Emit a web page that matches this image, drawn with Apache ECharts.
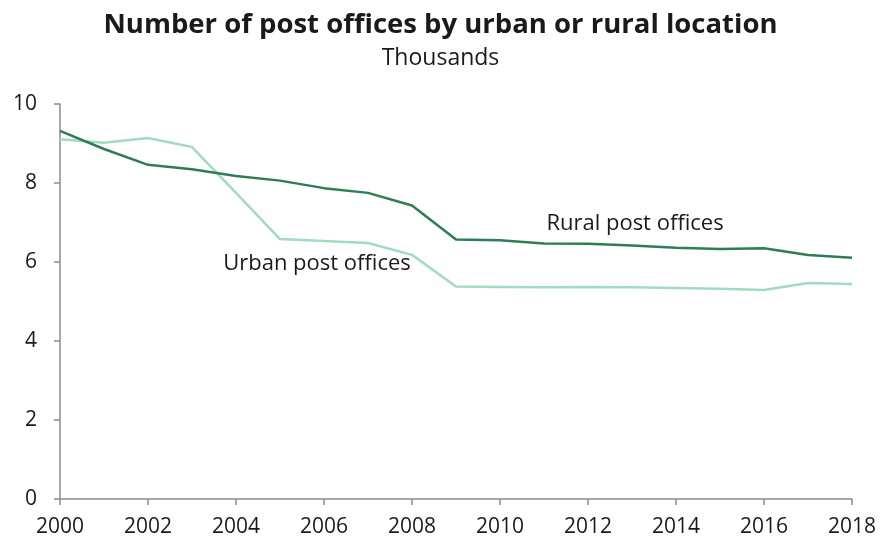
<!DOCTYPE html>
<html>
<head>
<meta charset="utf-8">
<script src="https://cdn.jsdelivr.net/npm/echarts@6/dist/echarts.min.js"></script>
<style>
  html, body { margin: 0; padding: 0; background: #ffffff; }
  #chart { width: 881px; height: 539px; }
</style>
</head>
<body>
<div id="chart"></div>
<script>
// Post offices (thousands) by location, 2000-2018
const years = [2000, 2001, 2002, 2003, 2004, 2005, 2006, 2007, 2008, 2009,
               2010, 2011, 2012, 2013, 2014, 2015, 2016, 2017, 2018];
const rural = [9.32, 8.86, 8.46, 8.35, 8.18, 8.06, 7.87, 7.75, 7.43, 6.57,
               6.55, 6.47, 6.46, 6.42, 6.36, 6.33, 6.35, 6.18, 6.11];
const urban = [9.11, 9.02, 9.14, 8.91, 7.75, 6.58, 6.53, 6.48, 6.18, 5.38,
               5.37, 5.36, 5.37, 5.36, 5.34, 5.32, 5.29, 5.47, 5.44];
const yTicks = [0, 2, 4, 6, 8, 10];
const xTicks = [2000, 2002, 2004, 2006, 2008, 2010, 2012, 2014, 2016, 2018];

const FONT = '"Open Sans", "Noto Sans", sans-serif';
const TEXT = '#1a1a1a';
const AXIS = '#8c8c8c';

// Series name written beside its line, anchored to one point of that line
function nameTag(values, year, text, position, offset) {
  const i = years.indexOf(year);
  return {
    symbol: 'circle',
    symbolSize: 0,
    silent: true,
    data: [{
      coord: [year, values[i]],
      label: {
        show: true, formatter: text, position: position, distance: 0, offset: offset,
        fontFamily: FONT, fontSize: 22, color: TEXT
      }
    }]
  };
}

const chart = echarts.init(document.getElementById('chart'), null, { renderer: 'canvas' });
chart.setOption({
  backgroundColor: '#ffffff',
  animation: false,
  title: [
    {
      text: 'Number of post offices by urban or rural location',
      left: 'center',
      top: 10,
      padding: 0,
      textStyle: { fontFamily: FONT, fontWeight: 'bold', fontSize: 27.5, color: TEXT, lineHeight: 30 }
    },
    {
      text: 'Thousands',
      left: 'center',
      top: 45,
      padding: 0,
      textStyle: { fontFamily: FONT, fontWeight: 'normal', fontSize: 23, color: TEXT, lineHeight: 26 }
    }
  ],
  grid: { left: 60, right: 29, top: 104, bottom: 40, containLabel: false },
  xAxis: {
    type: 'value',
    min: xTicks[0],
    max: xTicks[xTicks.length - 1],
    interval: 2,
    axisLine: { show: true, onZero: false, lineStyle: { color: AXIS, width: 1.5 } },
    axisTick: { show: true, length: 6, lineStyle: { color: AXIS, width: 1.5 } },
    axisLabel: { fontFamily: FONT, fontSize: 21, color: TEXT, margin: 18, formatter: v => String(v) },
    splitLine: { show: false }
  },
  yAxis: {
    type: 'value',
    min: yTicks[0],
    max: yTicks[yTicks.length - 1],
    interval: 2,
    axisLine: { show: true, lineStyle: { color: AXIS, width: 1.5 } },
    axisTick: { show: true, length: 6, lineStyle: { color: AXIS, width: 1.5 } },
    axisLabel: { fontFamily: FONT, fontSize: 21, color: TEXT, margin: 23 },
    splitLine: { show: false }
  },
  series: [
    {
      name: 'Urban post offices',
      type: 'line',
      symbol: 'none',
      lineStyle: { color: '#a2dcbf', width: 2.5 },
      z: 2,
      data: years.map((y, i) => [y, urban[i]]),
      markPoint: nameTag(urban, 2006, 'Urban post offices', 'bottom', [-7, 12])
    },
    {
      name: 'Rural post offices',
      type: 'line',
      symbol: 'none',
      lineStyle: { color: '#2e7d55', width: 2.5 },
      z: 3,
      data: years.map((y, i) => [y, rural[i]]),
      markPoint: nameTag(rural, 2013, 'Rural post offices', 'top', [3, -11])
    }
  ]
});
</script>
</body>
</html>
